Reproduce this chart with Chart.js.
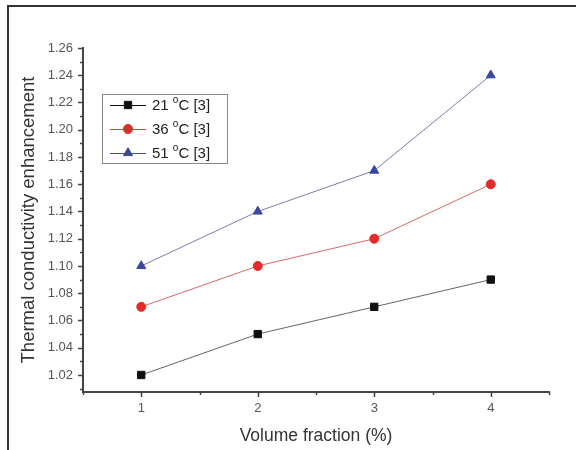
<!DOCTYPE html>
<html>
<head>
<meta charset="utf-8">
<script src="https://cdn.jsdelivr.net/npm/chart.js@4"></script>
<style>
  html, body { margin: 0; padding: 0; background: #fff; }
  #wrap { width: 576px; height: 450px; }
</style>
</head>
<body>
<div id="wrap"><canvas id="chart" width="576" height="450"></canvas></div>
<script>
// datos
const volumeFraction = [1, 2, 3, 4];
const temps = ['21', '36', '51'];
const tc21 = [1.02, 1.05, 1.07, 1.09];
const tc36 = [1.07, 1.10, 1.12, 1.16];
const tc51 = [1.10, 1.14, 1.17, 1.24];
const xTicks = [1, 2, 3, 4];
const yTicks = [1.02, 1.04, 1.06, 1.08, 1.10, 1.12, 1.14, 1.16, 1.18, 1.20, 1.22, 1.24, 1.26];

const FONT = 'Arial, "Liberation Sans", sans-serif';

const toPoints = (ys) => volumeFraction.map((x, i) => ({ x: x, y: ys[i] }));

// marco de la figura + marcas de los ejes (mayores y menores)
const framePlugin = {
  id: 'frame',
  beforeDraw(chart) {
    const ctx = chart.ctx;
    ctx.save();
    ctx.fillStyle = '#fff';
    ctx.fillRect(0, 0, chart.width, chart.height);
    ctx.strokeStyle = '#333';
    ctx.lineWidth = 2;
    ctx.beginPath();
    ctx.moveTo(576, 6);
    ctx.lineTo(8, 6);
    ctx.lineTo(8, 450);
    ctx.stroke();
    ctx.restore();
  },
  afterDraw(chart) {
    const ctx = chart.ctx;
    const { left, bottom } = chart.chartArea;
    const xs = chart.scales.x;
    const ys = chart.scales.y;
    ctx.save();
    ctx.strokeStyle = '#444';
    ctx.lineWidth = 1.5;
    ctx.beginPath();
    for (let i = 101; i <= 126; i++) {
      const py = Math.round(ys.getPixelForValue(i / 100)) + 0.5;
      const len = i % 2 === 0 ? 5 : 3;
      ctx.moveTo(left - len, py);
      ctx.lineTo(left, py);
    }
    for (let i = 1; i <= 9; i++) {
      const px = Math.round(xs.getPixelForValue(i / 2)) + 0.5;
      const len = i % 2 === 0 ? 5 : 3;
      ctx.moveTo(px, bottom);
      ctx.lineTo(px, bottom + len);
    }
    ctx.stroke();
    ctx.restore();
  }
};

// leyenda dentro del área del gráfico
const legendPlugin = {
  id: 'boxLegend',
  afterDatasetsDraw(chart) {
    const ctx = chart.ctx;
    const bx = 102, by = 94, bw = 125, bh = 69;
    ctx.save();
    ctx.fillStyle = '#fff';
    ctx.fillRect(bx, by, bw, bh);
    ctx.strokeStyle = '#888';
    ctx.lineWidth = 1;
    ctx.strokeRect(bx + 0.5, by + 0.5, bw, bh);
    chart.data.datasets.forEach((ds, i) => {
      const cy = by + 11 + i * 24;
      ctx.strokeStyle = ds.legendLine;
      ctx.lineWidth = 1;
      ctx.beginPath();
      ctx.moveTo(110, cy + 0.5);
      ctx.lineTo(146, cy + 0.5);
      ctx.stroke();
      Chart.helpers.drawPoint(ctx, {
        pointStyle: ds.pointStyle,
        radius: ds.pointRadius,
        borderWidth: 1
      }, 128, cy);
      ctx.fillStyle = ds.pointBackgroundColor;
      ctx.strokeStyle = ds.pointBorderColor;
      ctx.fill();
      // texto: "21 °C [3]" con la o en superíndice
      ctx.fillStyle = '#222';
      ctx.textBaseline = 'middle';
      ctx.textAlign = 'left';
      let tx = 152;
      ctx.font = '15px ' + FONT;
      const t1 = temps[i] + ' ';
      ctx.fillText(t1, tx, cy + 1);
      tx += ctx.measureText(t1).width;
      ctx.font = '10px ' + FONT;
      ctx.fillText('o', tx, cy - 5);
      tx += ctx.measureText('o').width;
      ctx.font = '15px ' + FONT;
      ctx.fillText('C [3]', tx, cy + 1);
    });
    ctx.restore();
  }
};

new Chart(document.getElementById('chart'), {
  type: 'line',
  plugins: [framePlugin, legendPlugin],
  data: {
    datasets: [
      {
        label: '21 °C [3]',
        data: toPoints(tc21),
        borderColor: '#666',
        legendLine: '#111',
        borderWidth: 1,
        pointStyle: 'rect',
        pointRadius: 5.2,
        pointBackgroundColor: '#111',
        pointBorderColor: '#111',
        pointBorderWidth: 1
      },
      {
        label: '36 °C [3]',
        data: toPoints(tc36),
        borderColor: '#d86a6a',
        legendLine: '#e03a3a',
        borderWidth: 1,
        pointStyle: 'circle',
        pointRadius: 4.5,
        pointBackgroundColor: '#e32b2b',
        pointBorderColor: '#e32b2b',
        pointBorderWidth: 1
      },
      {
        label: '51 °C [3]',
        data: toPoints(tc51),
        borderColor: '#7a7fae',
        legendLine: '#3f4aa0',
        borderWidth: 1,
        pointStyle: 'triangle',
        pointRadius: 5.2,
        pointBackgroundColor: '#3a46a0',
        pointBorderColor: '#3a46a0',
        pointBorderWidth: 1
      }
    ]
  },
  options: {
    responsive: false,
    animation: false,
    layout: { padding: { top: 48, right: 27, left: 0, bottom: 0 } },
    plugins: {
      legend: { display: false },
      tooltip: { enabled: false }
    },
    scales: {
      x: {
        type: 'linear',
        min: 0.5,
        max: 4.5,
        afterBuildTicks: (scale) => { scale.ticks = xTicks.map(v => ({ value: v })); },
        afterFit: (scale) => { scale.height = 58; },
        grid: { display: false, drawTicks: false },
        border: { display: true, color: '#444', width: 2 },
        ticks: {
          padding: 9,
          color: '#555',
          font: { family: FONT, size: 13 },
          callback: (v) => String(v)
        },
        title: {
          display: true,
          text: 'Volume fraction (%)',
          color: '#333',
          font: { family: FONT, size: 17.5 },
          padding: { top: 0, bottom: 3 }
        }
      },
      y: {
        type: 'linear',
        min: 1.0075,
        max: 1.26,
        afterBuildTicks: (scale) => { scale.ticks = yTicks.map(v => ({ value: v })); },
        afterFit: (scale) => { scale.width = 83; },
        grid: { display: false, drawTicks: false },
        border: { display: true, color: '#444', width: 2 },
        ticks: {
          padding: 10,
          color: '#555',
          font: { family: FONT, size: 13 },
          callback: (v) => Number(v).toFixed(2)
        },
        title: {
          display: true,
          text: 'Thermal conductivity enhancement',
          color: '#333',
          font: { family: FONT, size: 18.5 },
          padding: { top: 18, bottom: 0 }
        }
      }
    }
  }
});
</script>
</body>
</html>
